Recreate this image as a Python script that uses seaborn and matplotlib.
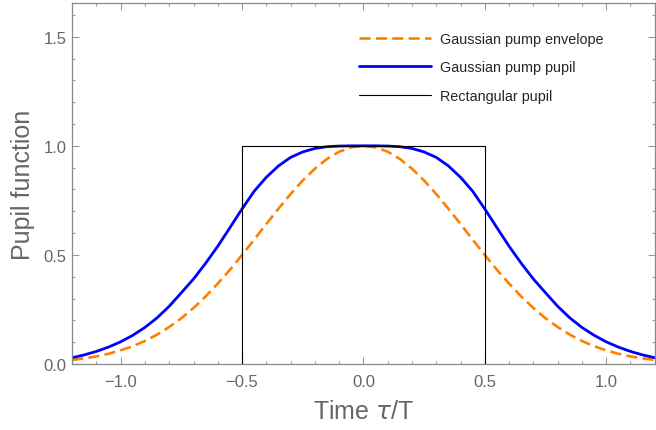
import numpy as np
import pandas as pd
import matplotlib
matplotlib.use("Agg")
import matplotlib.pyplot as plt
import seaborn as sns

# values, step 0.05 from -1.2 to 1.2
tau = np.round(np.arange(-1.2, 1.2001, 0.05), 2)

envelope = [0.019, 0.026, 0.035, 0.047, 0.063, 0.082, 0.106, 0.135, 0.170,
            0.210, 0.257, 0.310, 0.369, 0.432, 0.500, 0.570, 0.642, 0.712,
            0.779, 0.841, 0.895, 0.940, 0.973, 0.993, 1.000,
            0.993, 0.973, 0.940, 0.895, 0.841, 0.779, 0.712, 0.642, 0.570,
            0.500, 0.432, 0.369, 0.310, 0.257, 0.210, 0.170, 0.135, 0.106,
            0.082, 0.063, 0.047, 0.035, 0.026, 0.019]

pupil = [0.029, 0.042, 0.058, 0.078, 0.102, 0.132, 0.168, 0.212, 0.265,
         0.327, 0.390, 0.462, 0.540, 0.625, 0.711, 0.792, 0.856, 0.908,
         0.947, 0.972, 0.988, 0.996, 0.999, 1.000, 1.000,
         1.000, 0.999, 0.996, 0.988, 0.972, 0.947, 0.908, 0.856, 0.792,
         0.711, 0.625, 0.540, 0.462, 0.390, 0.327, 0.265, 0.212, 0.168,
         0.132, 0.102, 0.078, 0.058, 0.042, 0.029]

rect_x = [-0.5, -0.5, 0.5, 0.5]
rect_y = [0, 1, 1, 0]

labels = ["Gaussian pump envelope", "Gaussian pump pupil", "Rectangular pupil"]

df = pd.DataFrame({"tau": tau, "envelope": envelope, "pupil": pupil})
rect = pd.DataFrame({"tau": rect_x, "val": rect_y})

sns.set_style("ticks")
plt.rcParams["font.family"] = ["Liberation Sans", "DejaVu Sans"]
grey = "#666666"

fig = plt.figure(figsize=(6.56, 4.31), dpi=100)
ax = fig.add_axes([0.110, 0.153, 0.888, 0.838])

sns.lineplot(data=df, x="tau", y="envelope", ax=ax, color="#ff8000",
             lw=1.9, dashes=False, label=labels[0])
ax.lines[-1].set_dashes((4.2, 2.0))
sns.lineplot(data=df, x="tau", y="pupil", ax=ax, color="#0000ff",
             lw=2.0, label=labels[1])
sns.lineplot(data=rect, x="tau", y="val", ax=ax, color="black", lw=0.8,
             sort=False, estimator=None, label=labels[2])

ax.set_xlim(-1.2, 1.2)
ax.set_ylim(0, 1.655)
ax.set_xticks([-1.0, -0.5, 0.0, 0.5, 1.0])
ax.set_yticks([0.0, 0.5, 1.0, 1.5])
ax.set_xticks(np.arange(-1.2, 1.21, 0.1), minor=True)
ax.set_yticks(np.arange(0, 1.65, 0.1), minor=True)
ax.tick_params(which="both", direction="in", top=True, right=True,
               color="#999999", labelcolor=grey, labelsize=12, width=0.8)
ax.tick_params(which="major", length=5)
ax.tick_params(which="minor", length=2.5)
ax.tick_params(axis="x", pad=7)
ax.tick_params(axis="y", pad=4)
for s in ax.spines.values():
    s.set_color("#888888")
    s.set_linewidth(0.9)

ax.set_xlabel("Time $\\tau$/T", fontsize=18, color=grey, labelpad=7)
ax.set_ylabel("Pupil function", fontsize=18, color=grey, labelpad=6)

ax.legend(loc="upper left", bbox_to_anchor=(359 / 656, 1 - 33 / 431),
          bbox_transform=fig.transFigure, frameon=False, fontsize=10.4,
          handlelength=5.0, handletextpad=0.6, labelspacing=1.0,
          borderpad=0, borderaxespad=0)

fig.savefig("out.png", dpi=100)
